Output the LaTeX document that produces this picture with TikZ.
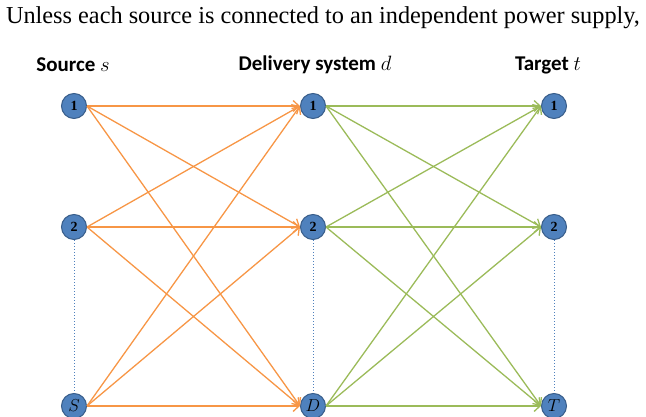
\documentclass[tikz,border=0pt]{standalone}
\usepackage{fontspec}
\setmainfont{Liberation Serif}
\newfontfamily\headfont{Carlito}
\usetikzlibrary{arrows.meta}
\definecolor{nodefill}{HTML}{4F81BD}
\definecolor{nodeedge}{HTML}{385D8A}
\definecolor{flowA}{HTML}{F79646}
\definecolor{flowB}{HTML}{9BBB59}
\tikzset{
  vertex/.style={circle, fill=nodefill, draw=nodeedge, line width=1pt,
    minimum size=25pt, inner sep=0pt, font=\fontsize{14}{14}\selectfont},
  bigvertex/.style={vertex, font=\fontsize{18}{18}\selectfont},
  head/.style={font=\headfont\bfseries\fontsize{21}{24}\selectfont},
  flow/.style={line width=1.3pt, -{Straight Barb[length=6pt, width=11pt, line width=1.3pt]}},
  srcflow/.style={flow, draw=flowA},
  dlvflow/.style={flow, draw=flowB},
  gap/.style={draw=nodefill, dotted, line width=1pt}
}
\begin{document}
\begin{tikzpicture}[x=1pt, y=-1pt]
\useasboundingbox (0,0) rectangle (646,417);

\node (intro) at (323,18) {\resizebox{634pt}{!}{Unless each source is connected to an independent power supply,}};

\node[head] (hs) at (73,65) {Source $s$};
\node[head] (hd) at (315,65) {Delivery system $d$};
\node[head] (ht) at (548,65) {Target $t$};

% nodes
\node[vertex] (s1) at (74,106) {$\mathbf{1}$};
\node[vertex] (s2) at (74,227) {$\mathbf{2}$};
\node[bigvertex] (sS) at (74,406) {$S$};
\node[vertex] (d1) at (313,106) {$\mathbf{1}$};
\node[vertex] (d2) at (313,227) {$\mathbf{2}$};
\node[bigvertex] (dD) at (313,406) {$D$};
\node[vertex] (t1) at (554,106) {$\mathbf{1}$};
\node[vertex] (t2) at (554,227) {$\mathbf{2}$};
\node[bigvertex] (tT) at (554,406) {$T$};

% omitted intermediate nodes
\draw[gap] (s2.south) -- (sS.north);
\draw[gap] (d2.south) -- (dD.north);
\draw[gap] (t2.south) -- (tT.north);

% source -> delivery
\foreach \a in {s1,s2,sS}
  \foreach \b in {d1,d2,dD}
    \draw[srcflow] (\a.east) -- (\b.west);

% delivery -> target
\foreach \a in {d1,d2,dD}
  \foreach \b in {t1,t2,tT}
    \draw[dlvflow] (\a.east) -- (\b.west);
\end{tikzpicture}
\end{document}
